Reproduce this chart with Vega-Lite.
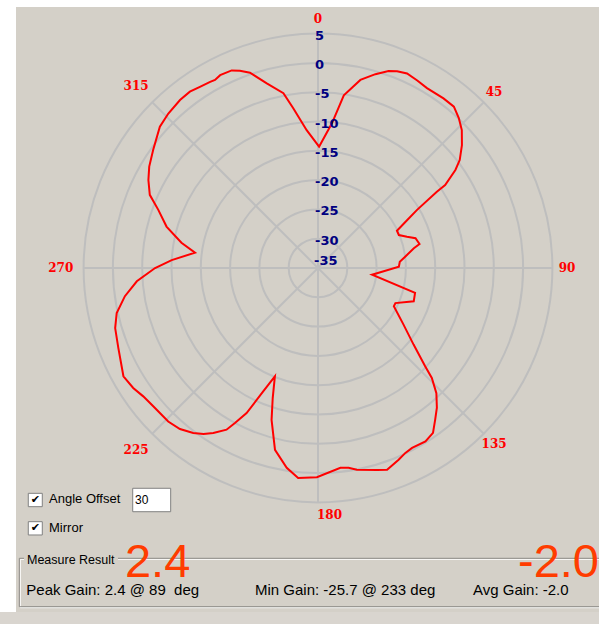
{
  "$schema": "https://vega.github.io/schema/vega-lite/v6.json",
  "width": 599,
  "height": 624,
  "autosize": {"type": "none"},
  "padding": 0,
  "background": "#ffffff",
  "config": {"view": {"stroke": null}},
  "datasets": {
    "pattern": [
      {"angle": 0.5, "gain": -14.3}, {"angle": 5.5, "gain": -10.2}, {"angle": 8.5, "gain": -5.2},
      {"angle": 12.7, "gain": -2.1}, {"angle": 16.5, "gain": -0.5}, {"angle": 19.7, "gain": 0.7},
      {"angle": 21.9, "gain": 1.2}, {"angle": 24.6, "gain": 1.5}, {"angle": 27.9, "gain": 1.2},
      {"angle": 31.2, "gain": 0.9}, {"angle": 36.5, "gain": 1.0}, {"angle": 40.1, "gain": 1.0},
      {"angle": 43.2, "gain": 0.1}, {"angle": 46.2, "gain": -1.0}, {"angle": 49.5, "gain": -2.7},
      {"angle": 52.7, "gain": -4.6}, {"angle": 54.5, "gain": -6.2}, {"angle": 56.9, "gain": -9.1},
      {"angle": 57.3, "gain": -10.9}, {"angle": 59.6, "gain": -15.4}, {"angle": 61.7, "gain": -17.7},
      {"angle": 64.7, "gain": -20.1}, {"angle": 67.8, "gain": -20.1}, {"angle": 70.6, "gain": -18.9},
      {"angle": 73.0, "gain": -17.6}, {"angle": 76.7, "gain": -17.2}, {"angle": 78.4, "gain": -18.3},
      {"angle": 82.6, "gain": -20.0}, {"angle": 85.6, "gain": -21.0}, {"angle": 89.1, "gain": -21.2},
      {"angle": 97.1, "gain": -25.7}, {"angle": 104.4, "gain": -17.9}, {"angle": 109.2, "gain": -17.7},
      {"angle": 114.4, "gain": -20.5}, {"angle": 116.8, "gain": -20.5}, {"angle": 123.5, "gain": -17.5},
      {"angle": 128.7, "gain": -14.1}, {"angle": 132.5, "gain": -10.2}, {"angle": 134.0, "gain": -8.0},
      {"angle": 136.6, "gain": -5.6}, {"angle": 139.6, "gain": -3.7}, {"angle": 142.3, "gain": -2.3},
      {"angle": 145.1, "gain": -0.7}, {"angle": 148.2, "gain": -0.2}, {"angle": 152.4, "gain": -0.35},
      {"angle": 154.7, "gain": -0.1}, {"angle": 157.2, "gain": 0.5}, {"angle": 161.1, "gain": 1.4},
      {"angle": 163.7, "gain": 0.9}, {"angle": 169.1, "gain": 0.05}, {"angle": 171.3, "gain": -0.5},
      {"angle": 173.6, "gain": -0.7}, {"angle": 180.3, "gain": 0.7}, {"angle": 185.4, "gain": 1.0},
      {"angle": 188.9, "gain": -0.5}, {"angle": 193.3, "gain": -3.1}, {"angle": 197.0, "gain": -7.9},
      {"angle": 199.2, "gain": -11.5}, {"angle": 201.7, "gain": -15.1}, {"angle": 203.9, "gain": -12.0},
      {"angle": 206.2, "gain": -7.4}, {"angle": 208.2, "gain": -5.0}, {"angle": 209.5, "gain": -3.3},
      {"angle": 212.4, "gain": -1.65}, {"angle": 214.6, "gain": -0.6}, {"angle": 217.1, "gain": 0.3},
      {"angle": 220.6, "gain": 1.2}, {"angle": 224.3, "gain": 1.6}, {"angle": 230.0, "gain": 1.7},
      {"angle": 233.7, "gain": 2.0}, {"angle": 237.0, "gain": 2.6}, {"angle": 240.9, "gain": 3.0},
      {"angle": 248.2, "gain": 1.7}, {"angle": 253.5, "gain": 1.1}, {"angle": 257.4, "gain": 0.2},
      {"angle": 261.7, "gain": -1.7}, {"angle": 265.8, "gain": -4.0}, {"angle": 270.0, "gain": -7.2},
      {"angle": 273.1, "gain": -10.0}, {"angle": 277.1, "gain": -13.85}, {"angle": 280.5, "gain": -11.3},
      {"angle": 285.3, "gain": -8.2}, {"angle": 290.0, "gain": -6.0}, {"angle": 293.5, "gain": -3.7},
      {"angle": 297.4, "gain": -2.4}, {"angle": 301.0, "gain": -1.4}, {"angle": 305.6, "gain": -0.4},
      {"angle": 311.8, "gain": 1.2}, {"angle": 315.9, "gain": 1.7}, {"angle": 320.6, "gain": 2.1},
      {"angle": 324.0, "gain": 2.2}, {"angle": 326.9, "gain": 1.9}, {"angle": 329.9, "gain": 1.7},
      {"angle": 331.3, "gain": 1.6}, {"angle": 333.1, "gain": 1.9}, {"angle": 336.4, "gain": 1.8},
      {"angle": 338.4, "gain": 1.2}, {"angle": 340.8, "gain": 0.3}, {"angle": 344.5, "gain": -2.3},
      {"angle": 348.8, "gain": -4.6}, {"angle": 351.2, "gain": -7.4}, {"angle": 355.3, "gain": -11.4}
    ],
    "rings": [
      {"level": -30}, {"level": -25}, {"level": -20}, {"level": -15},
      {"level": -10}, {"level": -5}, {"level": 0}, {"level": 5}
    ],
    "ringLabels": [
      {"level": 5, "label": "5"}, {"level": 0, "label": "0"}, {"level": -5, "label": "-5"},
      {"level": -10, "label": "-10"}, {"level": -15, "label": "-15"}, {"level": -20, "label": "-20"},
      {"level": -25, "label": "-25"}, {"level": -30, "label": "-30"}, {"level": -35, "label": "-35"}
    ],
    "diameters": [{"angle": 0}, {"angle": 45}, {"angle": 90}, {"angle": 135}],
    "angleLabels": [
      {"angle": 0, "label": "0"}, {"angle": 45, "label": "45"}, {"angle": 90, "label": "90"},
      {"angle": 135, "label": "135"}, {"angle": 180, "label": "180"}, {"angle": 225, "label": "225"},
      {"angle": 270, "label": "270"}, {"angle": 315, "label": "315"}
    ],
    "one": [{"k": 1}]
  },
  "layer": [
    {
      "data": {"name": "one"},
      "mark": {"type": "rect", "fill": "#d4d0c8"},
      "encoding": {
        "x": {"datum": -51.536, "type": "quantitative", "scale": {"domain": [-54.266, 47.952], "zero": false, "nice": false}, "axis": null},
        "x2": {"datum": 48.2},
        "y": {"datum": 44.539, "type": "quantitative", "scale": {"domain": [-60.751, 45.734], "zero": false, "nice": false}, "axis": null},
        "y2": {"datum": -58.703}
      }
    },
    {
      "data": {"name": "one"},
      "mark": {"type": "rect", "fill": "#d9d5cf"},
      "encoding": {
        "x": {"datum": -54.3, "type": "quantitative"},
        "x2": {"datum": 48.2},
        "y": {"datum": -58.703, "type": "quantitative"},
        "y2": {"datum": -61}
      }
    },
    {
      "data": {"name": "rings"},
      "transform": [
        {"calculate": "(datum.level+35)*(datum.level+35)", "as": "d2"}
      ],
      "mark": {"type": "point", "shape": "circle", "filled": false, "stroke": "#bebebe", "strokeWidth": 2, "opacity": 1},
      "encoding": {
        "x": {"datum": 0, "type": "quantitative"},
        "y": {"datum": 0, "type": "quantitative"},
        "size": {"field": "d2", "type": "quantitative", "scale": {"type": "linear", "domain": [0, 1600], "range": [0, 219773], "zero": true}, "legend": null}
      }
    },
    {
      "data": {"name": "diameters"},
      "transform": [
        {"calculate": "40*sin(datum.angle*PI/180)", "as": "sx"},
        {"calculate": "40*cos(datum.angle*PI/180)", "as": "sy"},
        {"calculate": "-40*sin(datum.angle*PI/180)", "as": "ex"},
        {"calculate": "-40*cos(datum.angle*PI/180)", "as": "ey"}
      ],
      "mark": {"type": "rule", "stroke": "#bebebe", "strokeWidth": 2},
      "encoding": {
        "x": {"field": "sx", "type": "quantitative"},
        "y": {"field": "sy", "type": "quantitative"},
        "x2": {"field": "ex"},
        "y2": {"field": "ey"}
      }
    },
    {
      "data": {"name": "pattern"},
      "transform": [
        {"calculate": "(datum.gain+35)*sin(datum.angle*PI/180)", "as": "px"},
        {"calculate": "(datum.gain+35)*cos(datum.angle*PI/180)", "as": "py"}
      ],
      "mark": {"type": "line", "stroke": "#ff0000", "strokeWidth": 2, "interpolate": "linear-closed"},
      "encoding": {
        "x": {"field": "px", "type": "quantitative"},
        "y": {"field": "py", "type": "quantitative"},
        "order": {"field": "angle", "type": "quantitative"}
      }
    },
    {
      "data": {"name": "ringLabels"},
      "transform": [
        {"filter": "datum.level > -35"},
        {"calculate": "datum.level + 35", "as": "ry"}
      ],
      "mark": {"type": "text", "align": "left", "baseline": "middle", "dx": -3, "dy": 2, "font": "DejaVu Sans", "fontWeight": "bold", "fontSize": 13, "fill": "#000080"},
      "encoding": {
        "x": {"datum": 0, "type": "quantitative"},
        "y": {"field": "ry", "type": "quantitative"},
        "text": {"field": "label"}
      }
    },
    {
      "data": {"name": "ringLabels"},
      "transform": [
        {"filter": "datum.level == -35"},
        {"calculate": "datum.level + 35", "as": "ry"}
      ],
      "mark": {"type": "text", "align": "left", "baseline": "middle", "dx": -4, "dy": -7, "font": "DejaVu Sans", "fontWeight": "bold", "fontSize": 13, "fill": "#000080"},
      "encoding": {
        "x": {"datum": 0, "type": "quantitative"},
        "y": {"field": "ry", "type": "quantitative"},
        "text": {"field": "label"}
      }
    },
    {
      "data": {"name": "angleLabels"},
      "transform": [
        {"filter": "datum.angle != 180"},
        {"calculate": "datum.angle > 180 ? 43.9 : 42.5", "as": "lr"},
        {"calculate": "datum.lr*sin(datum.angle*PI/180)", "as": "lx"},
        {"calculate": "datum.lr*cos(datum.angle*PI/180)", "as": "ly"}
      ],
      "mark": {"type": "text", "align": "center", "baseline": "middle", "font": "DejaVu Serif", "fontWeight": "bold", "fontSize": 12, "fill": "#ff0000"},
      "encoding": {
        "x": {"field": "lx", "type": "quantitative"},
        "y": {"field": "ly", "type": "quantitative"},
        "text": {"field": "label"}
      }
    },
    {
      "data": {"name": "angleLabels"},
      "transform": [
        {"filter": "datum.angle == 180"},
        {"calculate": "42.5*sin(datum.angle*PI/180)", "as": "lx"},
        {"calculate": "42.5*cos(datum.angle*PI/180)", "as": "ly"}
      ],
      "mark": {"type": "text", "align": "left", "baseline": "middle", "dx": -1, "dy": -2, "font": "DejaVu Serif", "fontWeight": "bold", "fontSize": 12, "fill": "#ff0000"},
      "encoding": {
        "x": {"field": "lx", "type": "quantitative"},
        "y": {"field": "ly", "type": "quantitative"},
        "text": {"field": "label"}
      }
    },
    {
      "data": {"name": "one"},
      "mark": {"type": "rect", "fill": "#ffffff", "stroke": "#808080", "strokeWidth": 1},
      "encoding": {
        "x": {"datum": -49.44, "type": "quantitative"}, "x2": {"datum": -47.05},
        "y": {"datum": -38.45, "type": "quantitative"}, "y2": {"datum": -40.73}
      }
    },
    {
      "data": {"name": "one"},
      "mark": {"type": "rect", "fill": "#ffffff", "stroke": "#808080", "strokeWidth": 1},
      "encoding": {
        "x": {"datum": -49.44, "type": "quantitative"}, "x2": {"datum": -47.05},
        "y": {"datum": -43.29, "type": "quantitative"}, "y2": {"datum": -45.56}
      }
    },
    {
      "data": {"name": "one"},
      "mark": {"type": "text", "text": "✔", "align": "center", "baseline": "middle", "font": "DejaVu Sans", "fontSize": 11, "fill": "#000000"},
      "encoding": {"x": {"datum": -48.24, "type": "quantitative"}, "y": {"datum": -39.59, "type": "quantitative"}}
    },
    {
      "data": {"name": "one"},
      "mark": {"type": "text", "text": "✔", "align": "center", "baseline": "middle", "font": "DejaVu Sans", "fontSize": 11, "fill": "#000000"},
      "encoding": {"x": {"datum": -48.24, "type": "quantitative"}, "y": {"datum": -44.42, "type": "quantitative"}}
    },
    {
      "data": {"name": "one"},
      "mark": {"type": "text", "text": "Angle Offset", "align": "left", "baseline": "middle", "font": "Liberation Sans", "fontSize": 13, "fill": "#000000"},
      "encoding": {"x": {"datum": -45.9, "type": "quantitative"}, "y": {"datum": -39.42, "type": "quantitative"}}
    },
    {
      "data": {"name": "one"},
      "mark": {"type": "text", "text": "Mirror", "align": "left", "baseline": "middle", "font": "Liberation Sans", "fontSize": 13, "fill": "#000000"},
      "encoding": {"x": {"datum": -45.9, "type": "quantitative"}, "y": {"datum": -44.42, "type": "quantitative"}}
    },
    {
      "data": {"name": "one"},
      "mark": {"type": "rect", "fill": "#ffffff", "stroke": "#808080", "strokeWidth": 1},
      "encoding": {
        "x": {"datum": -31.62, "type": "quantitative"}, "x2": {"datum": -25.14},
        "y": {"datum": -37.59, "type": "quantitative"}, "y2": {"datum": -41.59}
      }
    },
    {
      "data": {"name": "one"},
      "mark": {"type": "text", "text": "30", "align": "left", "baseline": "middle", "font": "Liberation Sans", "fontSize": 12, "fill": "#000000"},
      "encoding": {"x": {"datum": -31.23, "type": "quantitative"}, "y": {"datum": -39.59, "type": "quantitative"}}
    },
    {
      "data": {"name": "one"},
      "mark": {"type": "rect", "fillOpacity": 0, "stroke": "#ffffff", "strokeWidth": 1},
      "encoding": {
        "x": {"datum": -50.80, "type": "quantitative"}, "x2": {"datum": 49},
        "y": {"datum": -49.71, "type": "quantitative"}, "y2": {"datum": -57.97}
      }
    },
    {
      "data": {"name": "one"},
      "mark": {"type": "rect", "fillOpacity": 0, "stroke": "#8c8a86", "strokeWidth": 1},
      "encoding": {
        "x": {"datum": -50.97, "type": "quantitative"}, "x2": {"datum": 49},
        "y": {"datum": -49.54, "type": "quantitative"}, "y2": {"datum": -57.80}
      }
    },
    {
      "data": {"name": "one"},
      "mark": {"type": "rect", "fill": "#d4d0c8"},
      "encoding": {
        "x": {"datum": -50.17, "type": "quantitative"}, "x2": {"datum": -34.13},
        "y": {"datum": -48.63, "type": "quantitative"}, "y2": {"datum": -50.68}
      }
    },
    {
      "data": {"name": "one"},
      "mark": {"type": "text", "text": "Measure Result", "align": "left", "baseline": "middle", "font": "Liberation Sans", "fontSize": 12.5, "fill": "#000000"},
      "encoding": {"x": {"datum": -49.66, "type": "quantitative"}, "y": {"datum": -49.83, "type": "quantitative"}}
    },
    {
      "data": {"name": "one"},
      "mark": {"type": "text", "text": "2.4", "align": "left", "baseline": "alphabetic", "font": "Liberation Sans", "fontSize": 47, "fill": "#ff3c00"},
      "encoding": {"x": {"datum": -32.94, "type": "quantitative"}, "y": {"datum": -52.68, "type": "quantitative"}}
    },
    {
      "data": {"name": "one"},
      "mark": {"type": "text", "text": "-2.0", "align": "left", "baseline": "alphabetic", "font": "Liberation Sans", "fontSize": 47, "fill": "#ff3c00"},
      "encoding": {"x": {"datum": 34.13, "type": "quantitative"}, "y": {"datum": -52.68, "type": "quantitative"}}
    },
    {
      "data": {"name": "one"},
      "mark": {"type": "text", "text": "Peak Gain: 2.4 @ 89\u00a0 deg", "align": "left", "baseline": "alphabetic", "font": "Liberation Sans", "fontSize": 15, "fill": "#000000"},
      "encoding": {"x": {"datum": -49.78, "type": "quantitative"}, "y": {"datum": -55.8, "type": "quantitative"}}
    },
    {
      "data": {"name": "one"},
      "mark": {"type": "text", "text": "Min Gain: -25.7 @ 233 deg", "align": "left", "baseline": "alphabetic", "font": "Liberation Sans", "fontSize": 15, "fill": "#000000"},
      "encoding": {"x": {"datum": -10.75, "type": "quantitative"}, "y": {"datum": -55.8, "type": "quantitative"}}
    },
    {
      "data": {"name": "one"},
      "mark": {"type": "text", "text": "Avg Gain: -2.0", "align": "left", "baseline": "alphabetic", "font": "Liberation Sans", "fontSize": 15, "fill": "#000000"},
      "encoding": {"x": {"datum": 26.45, "type": "quantitative"}, "y": {"datum": -55.8, "type": "quantitative"}}
    }
  ]
}
